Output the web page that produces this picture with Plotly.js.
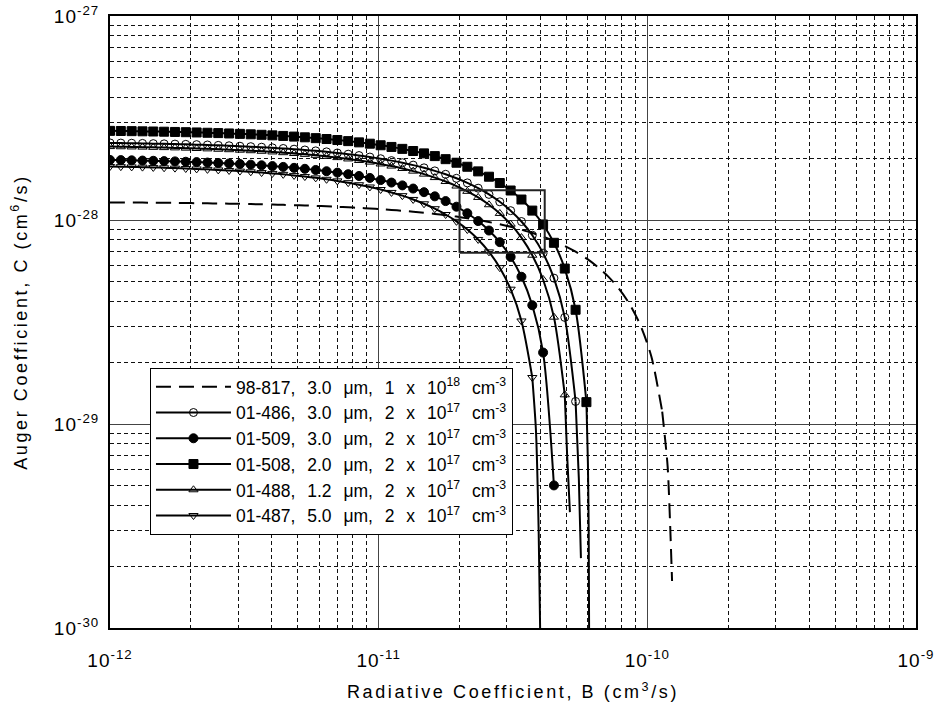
<!DOCTYPE html>
<html>
<head>
<meta charset="utf-8">
<script src="https://cdn.plot.ly/plotly-3.0.1.min.js"></script>
<style>
  html, body { margin: 0; padding: 0; background: #fff; }
  #chart { width: 937px; height: 724px; }
  /* wider tracking for the axis titles, tick labels and legend entries */
  .xtitle, .ytitle { letter-spacing: 2.6px; }
  .xtick text, .ytick text { letter-spacing: 1px; }
  .legendtext { word-spacing: 7px; }
</style>
</head>
<body>
<div id="chart"></div>
<script>
// Radiative coefficient B (cm^3/s) at each sampled point (log-spaced grid)
const bGrid = [
  1.000e-12, 1.097e-12, 1.204e-12, 1.321e-12, 1.449e-12, 1.590e-12, 1.745e-12, 1.914e-12, 2.101e-12, 2.305e-12,
  2.529e-12, 2.775e-12, 3.045e-12, 3.341e-12, 3.666e-12, 4.022e-12, 4.413e-12, 4.843e-12, 5.313e-12, 5.830e-12,
  6.397e-12, 7.019e-12, 7.701e-12, 8.450e-12, 9.273e-12, 1.017e-11, 1.116e-11, 1.225e-11, 1.344e-11, 1.475e-11,
  1.618e-11, 1.775e-11, 1.948e-11, 2.138e-11, 2.346e-11, 2.574e-11, 2.824e-11, 3.099e-11, 3.400e-11, 3.731e-11,
  4.093e-11, 4.491e-11, 4.928e-11, 5.407e-11, 5.933e-11
];
// further B samples used only by the 98-817 curve
const bGridExt = [6.510e-11, 7.142e-11, 7.837e-11, 8.598e-11, 9.434e-11, 1.035e-10, 1.136e-10];

// Auger coefficient C (cm^6/s) for each sample
const c98_817 = [
  1.220e-28, 1.219e-28, 1.218e-28, 1.217e-28, 1.216e-28, 1.214e-28, 1.213e-28, 1.211e-28, 1.209e-28, 1.207e-28,
  1.205e-28, 1.203e-28, 1.200e-28, 1.197e-28, 1.194e-28, 1.191e-28, 1.187e-28, 1.182e-28, 1.178e-28, 1.173e-28,
  1.167e-28, 1.161e-28, 1.154e-28, 1.147e-28, 1.139e-28, 1.130e-28, 1.120e-28, 1.110e-28, 1.098e-28, 1.085e-28,
  1.071e-28, 1.056e-28, 1.039e-28, 1.020e-28, 1.000e-28, 0.977e-28, 0.953e-28, 0.926e-28, 0.896e-28, 0.864e-28,
  0.828e-28, 0.789e-28, 0.746e-28, 0.699e-28, 0.648e-28, 0.591e-28, 0.529e-28, 0.461e-28, 0.386e-28, 0.304e-28,
  0.214e-28, 0.115e-28
];
const tailB98_817 = [1.19e-10, 1.236e-10];
const tailC98_817 = [6.2e-30, 1.7e-30];

const c01_486 = [
  2.387e-28, 2.383e-28, 2.379e-28, 2.374e-28, 2.368e-28, 2.362e-28, 2.356e-28, 2.349e-28, 2.341e-28, 2.332e-28,
  2.322e-28, 2.312e-28, 2.300e-28, 2.288e-28, 2.274e-28, 2.259e-28, 2.242e-28, 2.224e-28, 2.204e-28, 2.182e-28,
  2.158e-28, 2.131e-28, 2.102e-28, 2.070e-28, 2.035e-28, 1.997e-28, 1.955e-28, 1.909e-28, 1.858e-28, 1.802e-28,
  1.741e-28, 1.675e-28, 1.601e-28, 1.520e-28, 1.432e-28, 1.335e-28, 1.228e-28, 1.111e-28, 0.983e-28, 0.842e-28,
  0.688e-28, 0.519e-28, 0.333e-28, 0.129e-28
];
const tailB01_486 = [5.56e-11, 5.66e-11];
const tailC01_486 = [5.4e-30, 2.2e-30];

const c01_509 = [
  1.970e-28, 1.966e-28, 1.961e-28, 1.956e-28, 1.951e-28, 1.944e-28, 1.938e-28, 1.930e-28, 1.922e-28, 1.913e-28,
  1.903e-28, 1.893e-28, 1.881e-28, 1.868e-28, 1.854e-28, 1.838e-28, 1.821e-28, 1.802e-28, 1.782e-28, 1.759e-28,
  1.734e-28, 1.707e-28, 1.677e-28, 1.644e-28, 1.608e-28, 1.569e-28, 1.526e-28, 1.478e-28, 1.426e-28, 1.369e-28,
  1.306e-28, 1.238e-28, 1.162e-28, 1.079e-28, 0.988e-28, 0.888e-28, 0.779e-28, 0.659e-28, 0.527e-28, 0.382e-28,
  0.224e-28, 0.050e-28
];
const tailB01_509 = [];
const tailC01_509 = [];

const c01_508 = [
  2.735e-28, 2.731e-28, 2.726e-28, 2.721e-28, 2.715e-28, 2.709e-28, 2.702e-28, 2.694e-28, 2.686e-28, 2.677e-28,
  2.667e-28, 2.656e-28, 2.644e-28, 2.631e-28, 2.616e-28, 2.600e-28, 2.583e-28, 2.564e-28, 2.543e-28, 2.519e-28,
  2.494e-28, 2.466e-28, 2.436e-28, 2.402e-28, 2.366e-28, 2.325e-28, 2.281e-28, 2.232e-28, 2.179e-28, 2.121e-28,
  2.057e-28, 1.987e-28, 1.909e-28, 1.824e-28, 1.731e-28, 1.630e-28, 1.518e-28, 1.395e-28, 1.260e-28, 1.112e-28,
  0.951e-28, 0.773e-28, 0.578e-28, 0.363e-28, 0.128e-28
];
const tailB01_508 = [6.01e-11, 6.05e-11, 6.075e-11];
const tailC01_508 = [6.4e-30, 3.0e-30, 8e-31];

const c01_488 = [
  2.290e-28, 2.286e-28, 2.281e-28, 2.276e-28, 2.270e-28, 2.264e-28, 2.257e-28, 2.250e-28, 2.241e-28, 2.232e-28,
  2.222e-28, 2.211e-28, 2.199e-28, 2.186e-28, 2.172e-28, 2.156e-28, 2.138e-28, 2.119e-28, 2.098e-28, 2.075e-28,
  2.050e-28, 2.022e-28, 1.992e-28, 1.958e-28, 1.922e-28, 1.882e-28, 1.838e-28, 1.789e-28, 1.736e-28, 1.678e-28,
  1.614e-28, 1.544e-28, 1.467e-28, 1.382e-28, 1.290e-28, 1.188e-28, 1.077e-28, 0.954e-28, 0.820e-28, 0.672e-28,
  0.511e-28, 0.334e-28, 0.139e-28
];
const tailB01_488 = [5.03e-11, 5.15e-11];
const tailC01_488 = [7.0e-30, 3.7e-30];

const c01_487 = [
  1.830e-28, 1.826e-28, 1.821e-28, 1.816e-28, 1.810e-28, 1.803e-28, 1.796e-28, 1.788e-28, 1.780e-28, 1.771e-28,
  1.760e-28, 1.749e-28, 1.737e-28, 1.723e-28, 1.708e-28, 1.692e-28, 1.674e-28, 1.654e-28, 1.633e-28, 1.609e-28,
  1.583e-28, 1.555e-28, 1.524e-28, 1.489e-28, 1.452e-28, 1.411e-28, 1.365e-28, 1.316e-28, 1.261e-28, 1.201e-28,
  1.136e-28, 1.064e-28, 0.985e-28, 0.898e-28, 0.803e-28, 0.698e-28, 0.584e-28, 0.458e-28, 0.320e-28, 0.169e-28
];
const tailB01_487 = [3.85e-11, 3.94e-11, 4.00e-11];
const tailC01_487 = [9.3e-30, 3.0e-30, 8e-31];

// legend labels
const seriesNames = [
  '98-817, 3.0 \u03bcm, 1 x 10<sup>18</sup> cm<sup>-3</sup>',
  '01-486, 3.0 \u03bcm, 2 x 10<sup>17</sup> cm<sup>-3</sup>',
  '01-509, 3.0 \u03bcm, 2 x 10<sup>17</sup> cm<sup>-3</sup>',
  '01-508, 2.0 \u03bcm, 2 x 10<sup>17</sup> cm<sup>-3</sup>',
  '01-488, 1.2 \u03bcm, 2 x 10<sup>17</sup> cm<sup>-3</sup>',
  '01-487, 5.0 \u03bcm, 2 x 10<sup>17</sup> cm<sup>-3</sup>'
];

// axis decades and their labels
const xDecades = [1e-12, 1e-11, 1e-10, 1e-9];
const xDecadeText = ['10<sup>-12</sup>', '10<sup>-11</sup>', '10<sup>-10</sup>', '10<sup>-9</sup>'];
const yDecades = [1e-30, 1e-29, 1e-28, 1e-27];
const yDecadeText = ['10<sup>-30</sup>', '10<sup>-29</sup>', '10<sup>-28</sup>', '10<sup>-27</sup>'];

// highlighted region (B range, C range)
const boxB = [2.0e-11, 4.15e-11];
const boxC = [6.9e-29, 1.4e-28];

// ---------- drawing ----------
const FONT = 'Arial, "Liberation Sans", Helvetica, sans-serif';

function minorTicks(decades) {
  const out = [];
  for (let i = 0; i < decades.length - 1; i++) {
    for (let m = 2; m <= 9; m++) out.push(m * decades[i]);
  }
  return out;
}

const styles = [
  { c: c98_817, b: bGrid.concat(bGridExt), tb: tailB98_817, tc: tailC98_817, symbol: null, dash: '15px,8px' },
  { c: c01_486, b: bGrid, tb: tailB01_486, tc: tailC01_486, symbol: 'circle-open', size: 8 },
  { c: c01_509, b: bGrid, tb: tailB01_509, tc: tailC01_509, symbol: 'circle', size: 9 },
  { c: c01_508, b: bGrid, tb: tailB01_508, tc: tailC01_508, symbol: 'square', size: 9 },
  { c: c01_488, b: bGrid, tb: tailB01_488, tc: tailC01_488, symbol: 'triangle-up-open', size: 8 },
  { c: c01_487, b: bGrid, tb: tailB01_487, tc: tailC01_487, symbol: 'triangle-down-open', size: 8 }
];

const traces = [];
styles.forEach((s, i) => {
  const xs = s.b.slice(0, s.c.length);
  const main = {
    type: 'scatter',
    x: xs, y: s.c,
    name: seriesNames[i],
    mode: s.symbol ? 'lines+markers' : 'lines',
    line: { color: '#000', width: 2, shape: 'spline', smoothing: 0.8, dash: s.dash || 'solid' },
    hoverinfo: 'skip'
  };
  if (s.symbol) {
    main.marker = { symbol: s.symbol, size: s.size, color: '#000', line: { color: '#000', width: 1 } };
  }
  traces.push(main);
  if (s.tb.length) {
    traces.push({
      type: 'scatter',
      x: [xs[xs.length - 1]].concat(s.tb),
      y: [s.c[s.c.length - 1]].concat(s.tc),
      mode: 'lines',
      showlegend: false,
      line: { color: '#000', width: 2, shape: 'spline', smoothing: 0.6, dash: s.dash || 'solid' },
      hoverinfo: 'skip'
    });
  }
});

// outline of the highlighted region
traces.push({
  type: 'scatter',
  x: [boxB[0], boxB[1], boxB[1], boxB[0], boxB[0]],
  y: [boxC[0], boxC[0], boxC[1], boxC[1], boxC[0]],
  mode: 'lines',
  showlegend: false,
  line: { color: '#222', width: 2 },
  hoverinfo: 'skip'
});

const axisCommon = {
  type: 'log',
  showgrid: true,
  gridcolor: '#444',
  gridwidth: 1,
  showline: true,
  linecolor: '#000',
  linewidth: 2,
  mirror: true,
  ticks: '',
  zeroline: false,
  tickfont: { family: FONT, size: 19, color: '#000' }
};

const layout = {
  width: 937,
  height: 724,
  margin: { l: 110, r: 21, t: 16, b: 96 },
  paper_bgcolor: '#fff',
  plot_bgcolor: '#fff',
  font: { family: FONT, size: 18, color: '#000' },
  showlegend: true,
  legend: {
    x: 0.0496, y: 0.425, xanchor: 'left', yanchor: 'top',
    bgcolor: '#fff', bordercolor: '#000', borderwidth: 1,
    font: { family: FONT, size: 17.5, color: '#000' },
    itemwidth: 75,
    tracegroupgap: 0
  },
  xaxis: Object.assign({}, axisCommon, {
    range: [-12, -9],
    tickmode: 'array',
    tickvals: xDecades,
    ticktext: xDecadeText,
    ticklabelstandoff: 14,
    minor: {
      tickmode: 'array', tickvals: minorTicks(xDecades), ticks: '',
      showgrid: true, gridcolor: '#111', gridwidth: 1, griddash: '4px,3px'
    },
    title: { text: 'Radiative Coefficient, B (cm<sup>3</sup>/s)', font: { family: FONT, size: 18 }, standoff: 16 }
  }),
  yaxis: Object.assign({}, axisCommon, {
    range: [-30, -27],
    tickmode: 'array',
    tickvals: yDecades,
    ticktext: yDecadeText,
    ticklabelstandoff: 5,
    minor: {
      tickmode: 'array', tickvals: minorTicks(yDecades), ticks: '',
      showgrid: true, gridcolor: '#111', gridwidth: 1, griddash: '4px,3px'
    },
    title: { text: 'Auger Coefficient, C (cm<sup>6</sup>/s)', font: { family: FONT, size: 18 }, standoff: 22 }
  })
};

Plotly.newPlot('chart', traces, layout, { staticPlot: true, displayModeBar: false });
</script>
</body>
</html>
